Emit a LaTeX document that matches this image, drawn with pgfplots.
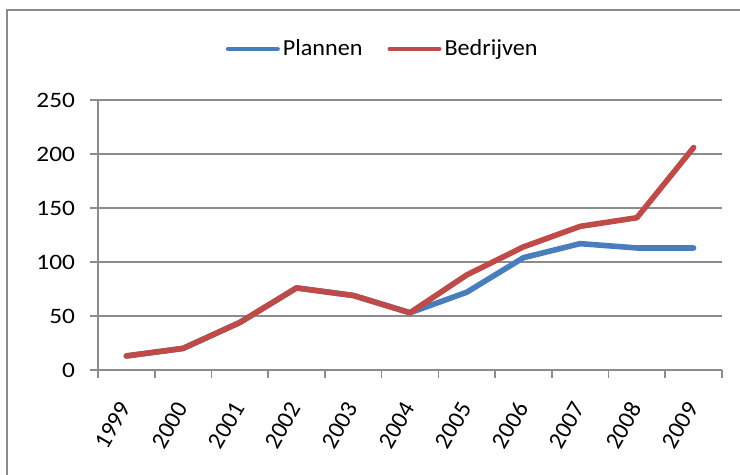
\documentclass[border=0pt]{standalone}
\usepackage{pgfplots}
\pgfplotsset{compat=1.18}
\usepackage{fontspec}
\setmainfont{Carlito}[FakeStretch=1.15]
\newfontfamily\legfont{Carlito}[FakeStretch=1.05]
\newfontfamily\xfont{Carlito}
\definecolor{sblue}{HTML}{4A7EBB}
\definecolor{sred}{HTML}{BE4B48}
\definecolor{gridc}{HTML}{8C8C8C}
\definecolor{framec}{HTML}{8A8A8A}
\begin{document}
\begin{tikzpicture}
\clip (0,0) rectangle (370pt,-237.5pt);
\fill[white] (0,0) rectangle (370pt,-237.5pt);
\draw[framec, line width=1.2pt] (3.5pt,-5pt) rectangle (390pt,-260pt);
\begin{axis}[
  scale only axis,
  width=312pt, height=135pt,
  anchor=south west, at={(49pt,-185pt)},
  xmin=-0.5, xmax=10.5, ymin=0, ymax=250,
  axis lines=left,
  axis line style={gridc, line width=0.9pt, -},
  xtick={0,...,10},
  xticklabels={1999,2000,2001,2002,2003,2004,2005,2006,2007,2008,2009},
  minor xtick={-0.5,0.5,...,10.5},
  ytick={0,50,...,250},
  ymajorgrids,
  major grid style={gridc, line width=0.8pt},
  tick align=outside,
  tick style={gridc, line width=0.8pt},
  x tick style={draw=none},
  minor x tick style={draw=gridc, line width=0.8pt},
  minor tick length=4pt,
  major tick length=4pt,
  tick label style={font=\fontsize{11}{13}\selectfont, text=black},
  /pgf/number format/assume math mode=true,
  yticklabel style={xshift=-4pt},
  xticklabel style={font=\xfont\fontsize{12}{14}\selectfont, xshift=-0.5pt, yshift=-13pt, rotate=60, anchor=east, inner sep=0pt},
  legend style={at={(0.457,1.189)}, anchor=center, draw=none, fill=none,
    font=\legfont\fontsize{11.5}{13}\selectfont, column sep=0pt,
    nodes={inner xsep=1.5pt},
    /tikz/every even column/.append style={column sep=11pt}},
  legend columns=2,
  legend image code/.code={\draw[#1, line width=2pt] (0pt,0pt) -- (25pt,0pt);},
  clip=false,
]
\addplot[sblue, line width=2.8pt, line join=round, line cap=round] coordinates {
(0,13) (1,20) (2,44) (3,76) (4,69) (5,53) (6,72) (7,104) (8,117) (9,113) (10,113)};
\addlegendentry{Plannen}
\addplot[sred, line width=2.8pt, line join=round, line cap=round] coordinates {
(0,13) (1,20) (2,44) (3,76) (4,69) (5,53) (6,88) (7,114) (8,133) (9,141) (10,206)};
\addlegendentry{Bedrijven}
\end{axis}
\end{tikzpicture}
\end{document}
